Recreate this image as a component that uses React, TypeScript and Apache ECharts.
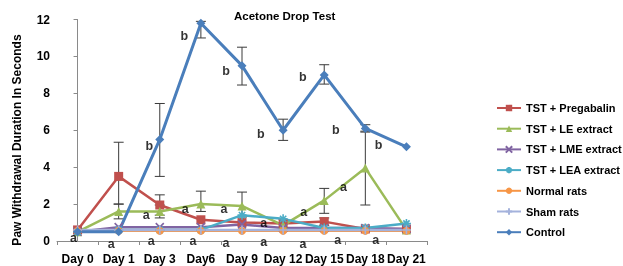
import React, { useEffect, useRef } from "react";
import * as echarts from "echarts";

const days = ["Day 0", "Day 1", "Day 3", "Day6", "Day 9", "Day 12", "Day 15", "Day 18", "Day 21"];
const yTicks = [0, 2, 4, 6, 8, 10, 12];

const seriesNames = [
  "TST + Pregabalin",
  "TST + LE extract",
  "TST + LME extract",
  "TST + LEA extract",
  "Normal rats",
  "Sham rats",
  "Control",
];

const pregabalin = [0.6, 3.5, 1.95, 1.15, 1.0, 0.95, 1.05, 0.65, 0.65];
const leExtract = [0.5, 1.6, 1.6, 2.0, 1.9, 0.85, 2.2, 3.95, 0.6];
const lmeExtract = [0.5, 0.75, 0.75, 0.75, 0.9, 0.7, 0.7, 0.7, 0.65];
const leaExtract = [0.5, 0.6, 0.6, 0.6, 1.4, 1.2, 0.7, 0.7, 0.95];
const normalRats = [0.55, 0.55, 0.55, 0.55, 0.55, 0.55, 0.55, 0.55, 0.55];
const shamRats = [0.6, 0.6, 0.6, 0.6, 0.6, 0.6, 0.6, 0.6, 0.6];
const control = [0.5, 0.5, 5.5, 11.8, 9.5, 6.0, 9.0, 6.1, 5.1];

// error bars (low / high), null = none visible
const controlLow = [null, null, 3.5, 11.0, 8.45, 5.45, 8.5, 5.9, null];
const controlHigh = [null, null, 7.45, 11.9, 10.5, 6.6, 9.55, 6.3, null];
const pregabalinLow = [null, 2.0, 1.4, null, null, null, 0.85, null, null];
const pregabalinHigh = [null, 5.35, 2.5, null, null, null, 1.25, null, null];
const leLow = [null, 1.2, 1.25, 1.6, 1.3, null, 1.5, 1.95, null];
const leHigh = [null, 2.0, 1.95, 2.7, 2.65, null, 2.85, 5.95, null];

// significance letters: x in day-index units, y in seconds
const letterText = [
  "b", "b", "b", "b", "b", "b", "b",
  "a", "a", "a", "a", "a", "a",
  "a", "a", "a", "a", "a", "a", "a", "a", "a",
];
const letterX = [
  1.745, 2.594, 3.61, 4.46, 5.48, 6.28, 7.32,
  1.67, 2.62, 3.56, 4.53, 5.5, 6.47,
  -0.1, 0.82, 1.79, 2.81, 3.61, 4.53, 5.48, 6.33, 7.25,
];
const letterY = [
  5.16, 11.13, 9.23, 5.81, 8.9, 6.03, 5.21,
  1.41, 1.74, 1.74, 0.98, 1.57, 2.93,
  0.15, -0.15, 0.0, 0.0, -0.1, -0.05, -0.15, 0.05, 0.05,
];

const FONT = "'Liberation Sans', Arial, sans-serif";

function errData(low: (number | null)[], high: (number | null)[]) {
  const out: number[][] = [];
  low.forEach((l, i) => {
    const h = high[i];
    if (l !== null && h !== null) out.push([i, l, h]);
  });
  return out;
}

function errSeries(low: (number | null)[], high: (number | null)[]) {
  return {
    type: "custom",
    xAxisIndex: 0,
    yAxisIndex: 0,
    z: 1,
    silent: true,
    data: errData(low, high),
    renderItem: (params: any, api: any) => {
      const i = api.value(0);
      const lo = api.coord([i, api.value(1)]);
      const hi = api.coord([i, api.value(2)]);
      const w = 5;
      const style = { stroke: "#3a3a3a", lineWidth: 1 };
      return {
        type: "group",
        children: [
          { type: "line", shape: { x1: lo[0], y1: lo[1], x2: hi[0], y2: hi[1] }, style },
          { type: "line", shape: { x1: lo[0] - w, y1: lo[1], x2: lo[0] + w, y2: lo[1] }, style },
          { type: "line", shape: { x1: hi[0] - w, y1: hi[1], x2: hi[0] + w, y2: hi[1] }, style },
        ],
      };
    },
  };
}

const X_PATH = "path://M0,0L10,10M10,0L0,10";
const STAR_PATH = "path://M5,0L5,10M0,5L10,5M1.5,1.5L8.5,8.5M8.5,1.5L1.5,8.5";
const PLUS_PATH = "path://M5,0L5,10M0,5L10,5";

export default function App() {
  const ref = useRef<HTMLDivElement>(null);
  useEffect(() => {
    if (!ref.current) return;
    const chart = echarts.init(ref.current, null, { renderer: "svg" });

    const lineSeries = (
      name: string,
      data: number[],
      color: string,
      symbol: string,
      symbolSize: number,
      width: number,
      stroke: boolean
    ) => ({
      name,
      type: "line",
      data,
      symbol,
      symbolSize,
      z: 2,
      lineStyle: { color, width },
      itemStyle: stroke
        ? { color, borderColor: color, borderWidth: 1.6 }
        : { color, borderWidth: 0 },
    });

    const option: any = {
      animation: false,
      title: {
        text: "Acetone Drop Test",
        left: 234,
        top: 10,
        padding: 0,
        textStyle: { fontFamily: FONT, fontSize: 11.5, fontWeight: "bold", color: "#000" },
      },
      graphic: [
        {
          type: "text",
          x: 17,
          y: 140,
          rotation: Math.PI / 2,
          style: {
            text: "Paw Withdrawal Duration In Seconds",
            fontFamily: FONT,
            fontSize: 12,
            fontWeight: "bold",
            fill: "#000",
            align: "center",
            verticalAlign: "middle",
          },
        },
      ],
      legend: {
        orient: "vertical",
        left: 496,
        top: 101,
        itemWidth: 24,
        itemHeight: 8,
        itemGap: 6.7,
        padding: 0,
        data: seriesNames,
        textStyle: { fontFamily: FONT, fontSize: 11, fontWeight: "bold", color: "#000", lineHeight: 14 },
      },
      grid: { left: 57, right: 196, top: 19.5, bottom: 25, containLabel: false },
      xAxis: [
        {
          type: "category",
          data: days,
          boundaryGap: true,
          axisLine: { lineStyle: { color: "#8a8a8a", width: 1 } },
          axisTick: { show: true, length: 4, lineStyle: { color: "#8a8a8a" } },
          axisLabel: { fontFamily: FONT, fontSize: 12, fontWeight: "bold", color: "#000", margin: 12, interval: 0 },
        },
        { type: "value", min: -0.5, max: 8.5, show: false },
      ],
      yAxis: {
        type: "value",
        min: 0,
        max: 12,
        interval: 2,
        splitLine: { show: false },
        axisLine: { show: true, lineStyle: { color: "#8a8a8a", width: 1 } },
        axisTick: { show: true, length: 4, lineStyle: { color: "#8a8a8a" } },
        axisLabel: {
          fontFamily: FONT,
          fontSize: 12,
          fontWeight: "bold",
          color: "#000",
          margin: 7,
          formatter: (v: number) => (yTicks.includes(v) ? String(v) : ""),
        },
      },
      series: [
        errSeries(pregabalinLow, pregabalinHigh),
        errSeries(leLow, leHigh),
        errSeries(controlLow, controlHigh),
        lineSeries(seriesNames[0], pregabalin, "#C0504D", "rect", 9, 2.5, false),
        lineSeries(seriesNames[1], leExtract, "#9BBB59", "triangle", 9, 2.5, false),
        lineSeries(seriesNames[2], lmeExtract, "#8064A2", X_PATH, 8, 2.5, true),
        lineSeries(seriesNames[3], leaExtract, "#4BACC6", STAR_PATH, 9, 2.5, true),
        lineSeries(seriesNames[4], normalRats, "#F79646", "circle", 8, 2.5, false),
        lineSeries(seriesNames[5], shamRats, "#A4B2DC", PLUS_PATH, 9, 2.5, true),
        lineSeries(seriesNames[6], control, "#4A7EBB", "diamond", 9, 3, false),
        {
          type: "scatter",
          xAxisIndex: 1,
          yAxisIndex: 0,
          symbolSize: 1,
          itemStyle: { color: "rgba(0,0,0,0)" },
          clip: false,
          silent: true,
          z: 5,
          data: letterText.map((t, i) => ({ name: t, value: [letterX[i], letterY[i]] })),
          label: {
            show: true,
            position: "inside",
            formatter: (p: any) => p.name,
            fontFamily: FONT,
            fontSize: 12.5,
            fontWeight: "bold",
            color: "#000",
            align: "center",
            verticalAlign: "middle",
          },
        },
      ],
    };
    chart.setOption(option);
    return () => chart.dispose();
  }, []);

  return (
    <div
      ref={ref}
      style={{ position: "fixed", left: 0, top: 0, width: 623, height: 266 }}
    />
  );
}
